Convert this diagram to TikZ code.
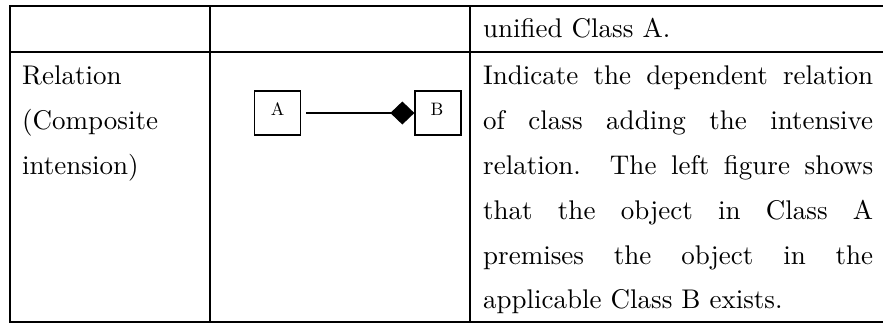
\documentclass[tikz,border=0pt]{standalone}
\usepackage{fontspec}
% the 10pt design of Latin Modern at every size: wider, heavier strokes
\setmainfont{lmroman10-regular}[Extension=.otf]
\usetikzlibrary{arrows.meta}

\tikzset{
  tablerule/.style={line width=2.4pt, line join=miter},
  body/.style={anchor=base west, inner sep=0pt, font=\fontsize{27}{33}\selectfont},
  clsbox/.style={draw, line width=1.3pt, minimum width=46pt, minimum height=44pt, inner sep=0pt},
  clslabel/.style={anchor=base, inner sep=0pt, font=\fontsize{18}{22}\selectfont},
  compos/.style={line width=1.3pt, -{Diamond[length=24pt,width=23pt]}, shorten <=5pt}
}
% a justified line of the description column
\newcommand{\jline}[1]{\makebox[390pt][s]{#1}}

\begin{document}
\begin{tikzpicture}[x=1pt, y=-1pt]
  \useasboundingbox (0,0) rectangle (883,324);

  % table rules (the right border lies past the page edge)
  \draw[tablerule] (895,6) -- (10,6) -- (10,322) -- (895,322);
  \draw[tablerule] (10,52) -- (895,52);
  \draw[tablerule] (210,6) -- (210,322);
  \draw[tablerule] (470,6) -- (470,322);

  % first row, description column
  \node[body] (hdr) at (483,37) {unified Class A.};

  % second row, name column
  \node[body] (n1) at (22,84)  {Relation};
  \node[body] (n2) at (22,129) {(Composite};
  \node[body] (n3) at (22,174) {intension)};

  % second row, figure column: composition from A to B
  \node[clsbox] (A) at (277.5,113) {};
  \node[clsbox] (B) at (438,113) {};
  \node[clslabel] (Atxt) at (277.5,115) {A};
  \node[clslabel] (Btxt) at (437,115) {B};
  \draw[compos] (A) -- (B);

  % second row, description column
  \node[body] (d1) at (483,84)  {\jline{Indicate the dependent relation}};
  \node[body] (d2) at (483,129) {\jline{of class adding the intensive}};
  \node[body] (d3) at (483,174) {\jline{relation.\ \ The left figure shows}};
  \node[body] (d4) at (483,219) {\jline{that the object in Class A}};
  \node[body] (d5) at (483,264) {\jline{premises the object in the}};
  \node[body] (d6) at (483,308) {applicable Class B exists.};
\end{tikzpicture}
\end{document}
